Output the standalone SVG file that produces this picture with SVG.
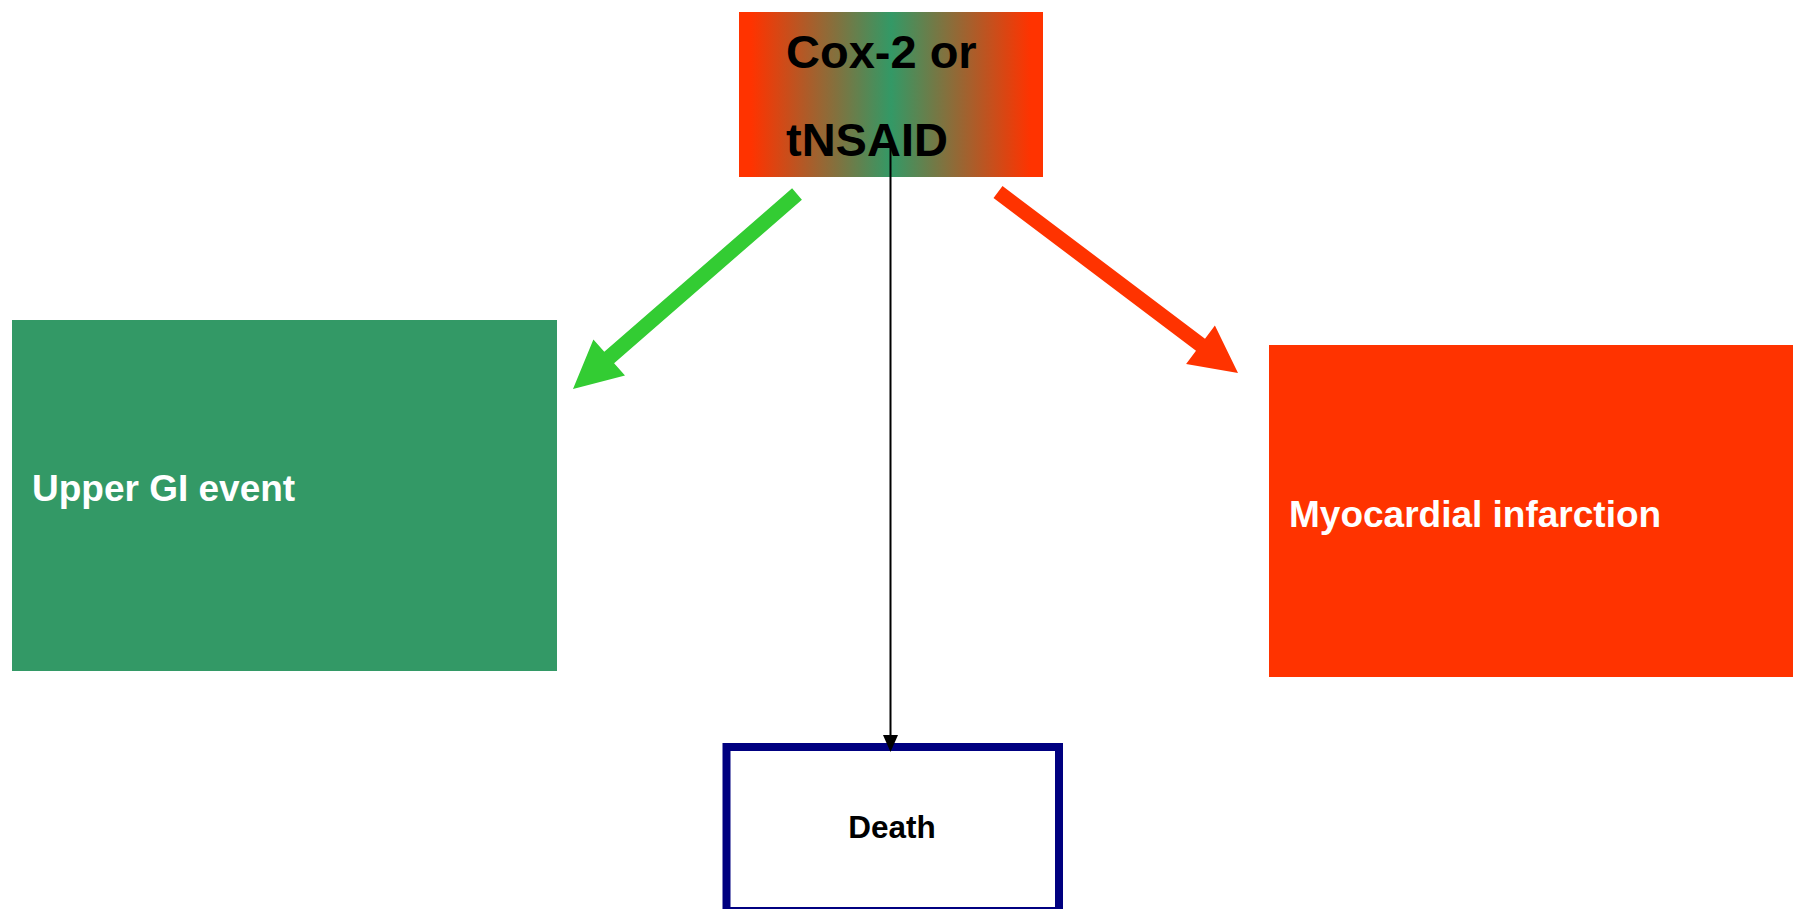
<svg xmlns="http://www.w3.org/2000/svg" width="1793" height="909" viewBox="0 0 1793 909">
  <style>
    .lbl { font-family: "Liberation Sans", Arial, sans-serif; font-weight: bold; }
    .big { font-size: 47px; fill: #000000; }
    .box-lbl { font-size: 37px; fill: #FFFFFF; }
    .small { font-size: 31.5px; fill: #000000; }
  </style>
  <defs>
    <linearGradient id="drugFill" x1="0" y1="0" x2="1" y2="0">
      <stop offset="0" stop-color="#FF3300"/>
      <stop offset="0.04" stop-color="#FF3300"/>
      <stop offset="0.5" stop-color="#339966"/>
      <stop offset="0.96" stop-color="#FF3300"/>
      <stop offset="1" stop-color="#FF3300"/>
    </linearGradient>
  </defs>

  <rect width="1793" height="909" fill="#FFFFFF"/>

  <!-- Drug node -->
  <g id="node-drug">
    <rect x="739" y="12" width="304" height="165" fill="url(#drugFill)"/>
    <text class="lbl big" x="786" y="68">Cox-2 or</text>
    <text class="lbl big" x="786" y="156">tNSAID</text>
  </g>

  <!-- Upper GI event node -->
  <g id="node-gi">
    <rect x="12" y="320" width="545" height="351" fill="#339966"/>
    <text class="lbl box-lbl" x="32" y="501">Upper GI event</text>
  </g>

  <!-- Myocardial infarction node -->
  <g id="node-mi">
    <rect x="1269" y="345" width="524" height="332" fill="#FF3300"/>
    <text class="lbl box-lbl" x="1289" y="527">Myocardial infarction</text>
  </g>

  <!-- Death node -->
  <g id="node-death">
    <rect x="726.5" y="747" width="332.5" height="164" fill="#FFFFFF" stroke="#000080" stroke-width="8"/>
    <text class="lbl small" x="892" y="838" text-anchor="middle">Death</text>
  </g>

  <!-- Connectors -->
  <g id="connectors">
    <polygon fill="#33CC33" points="792.1,188.3 801.9,199.7 614.1,363.2 625,375.6 573,389 593.4,339.4 604.3,351.8"/>
    <polygon fill="#FF3300" points="993.5,198 1002.5,186 1205,338.7 1214.9,325.5 1238,373 1186.1,363.9 1196,350.7"/>
    <line x1="890.5" y1="146" x2="890.5" y2="737" stroke="#000000" stroke-width="2"/>
    <polygon fill="#000000" points="883,735 898,735 890.5,752"/>
  </g>
</svg>
